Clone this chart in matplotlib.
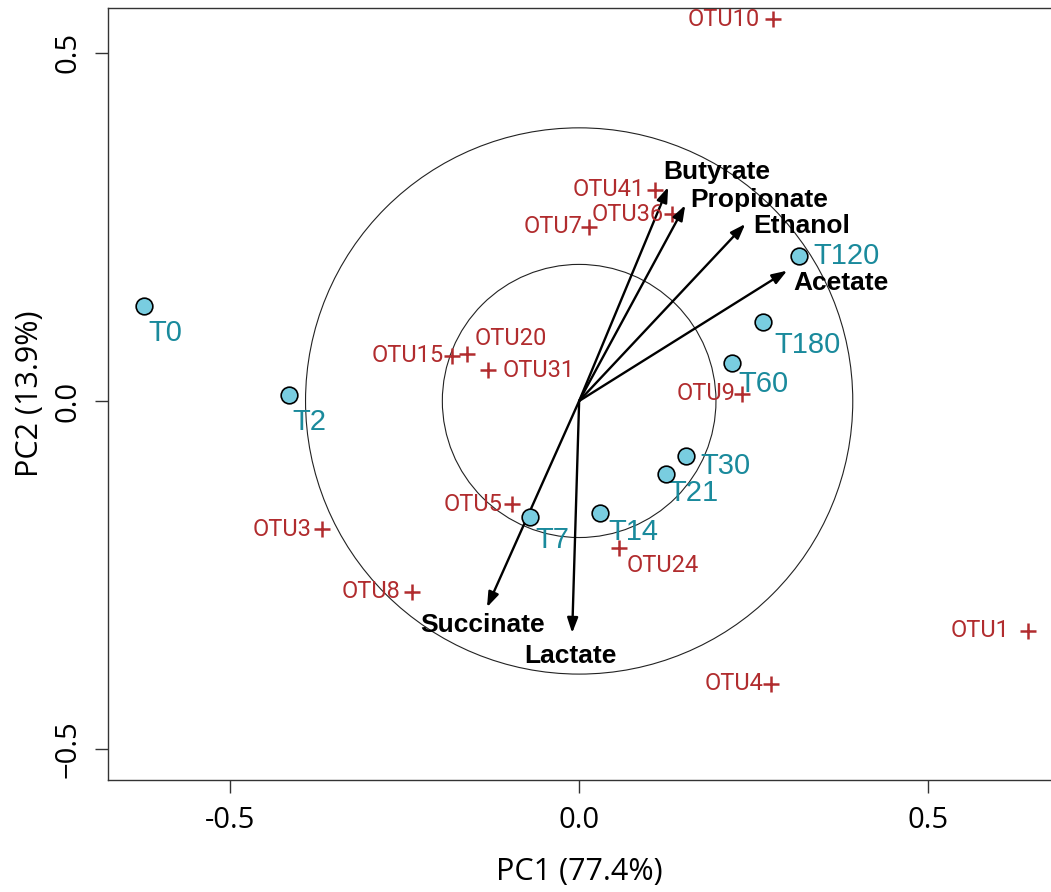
import matplotlib
matplotlib.use('Agg')
from matplotlib import pyplot as plt
from matplotlib.patches import Circle

# sample scores
samples = ['T0', 'T2', 'T7', 'T14', 'T21', 'T30', 'T60', 'T120', 'T180']
sample_pc1 = [-0.623, -0.416, -0.070, 0.030, 0.125, 0.153, 0.219, 0.315, 0.264]
sample_pc2 = [0.136, 0.009, -0.166, -0.161, -0.105, -0.079, 0.055, 0.208, 0.113]

# OTU scores
otus = ['OTU10', 'OTU41', 'OTU36', 'OTU7', 'OTU15', 'OTU20', 'OTU31', 'OTU9',
        'OTU5', 'OTU3', 'OTU8', 'OTU24', 'OTU4', 'OTU1']
otu_pc1 = [0.278, 0.109, 0.133, 0.014, -0.182, -0.160, -0.130, 0.234,
           -0.096, -0.368, -0.239, 0.057, 0.275, 0.643]
otu_pc2 = [0.548, 0.303, 0.268, 0.250, 0.065, 0.067, 0.044, 0.010,
           -0.148, -0.184, -0.274, -0.211, -0.406, -0.330]

# metabolite loadings (arrows)
metabolites = ['Butyrate', 'Propionate', 'Ethanol', 'Acetate', 'Succinate', 'Lactate']
met_pc1 = [0.1275, 0.152, 0.238, 0.298, -0.132, -0.010]
met_pc2 = [0.307, 0.281, 0.254, 0.187, -0.296, -0.333]

circle_radii = [0.196, 0.392]

# label placement (pixels from the point) and alignment
sample_offsets = [(4, -27), (4, -27), (5, -23), (8, -19), (2, -19),
                  (14, -10), (6, -21), (14, 0), (11, -23)]
otu_offsets = [(-13, 0), (-10, 0), (-8, 0), (-6, 0), (-8, 0), (7, 16), (14, 0),
               (-7, 0), (-10, 0), (-11, 0), (-12, 0), (8, -18), (-8, 0), (-18, 0)]
otu_align = ['right', 'right', 'right', 'right', 'right', 'left', 'left',
             'right', 'right', 'right', 'right', 'left', 'right', 'right']
met_offsets = [(-5, 15), (5, 5), (8, -2), (6, -12), (-4, -18), (-2, -23)]
met_align = ['left', 'left', 'left', 'left', 'center', 'center']

RED = '#b12c2e'
TEAL = '#1a8a9c'
FILL = '#79cde0'


def main():
    fig = plt.figure(figsize=(10.51, 8.92), dpi=100)
    ax = fig.add_axes([108 / 1051, 112 / 892, 943 / 1051, 772 / 892])
    ax.set_xlim(-0.675, 0.676)
    ax.set_ylim(-0.544, 0.564)

    for r in circle_radii:
        ax.add_patch(Circle((0, 0), r, fill=False, ec='#222222', lw=0.8))

    # arrows
    for name, x, y, off, ha in zip(metabolites, met_pc1, met_pc2, met_offsets, met_align):
        ax.annotate('', xy=(x, y), xytext=(0, 0),
                    arrowprops=dict(arrowstyle='-|>,head_length=0.9,head_width=0.32',
                                    color='black', lw=1.7, shrinkA=0, shrinkB=0,
                                    mutation_scale=10))
        ax.annotate(name, (x, y), xytext=off, textcoords='offset pixels',
                    ha=ha, va='center', fontsize=19, fontweight='bold',
                    family='Liberation Sans', color='black')

    # OTUs
    ax.plot(otu_pc1, otu_pc2, '+', color=RED, ms=11, mew=1.8, ls='none')
    for name, x, y, off, ha in zip(otus, otu_pc1, otu_pc2, otu_offsets, otu_align):
        ax.annotate(name, (x, y), xytext=off, textcoords='offset pixels',
                    ha=ha, va='center', fontsize=17, family='Roboto', color=RED)

    # samples
    ax.plot(sample_pc1, sample_pc2, 'o', ms=12, mfc=FILL, mec='black', mew=1.2,
            ls='none', zorder=5)
    for name, x, y, off in zip(samples, sample_pc1, sample_pc2, sample_offsets):
        ax.annotate(name, (x, y), xytext=off, textcoords='offset pixels',
                    ha='left', va='center', fontsize=21, family='Liberation Sans',
                    color=TEAL)

    ax.spines['right'].set_visible(False)
    for s in ['left', 'top', 'bottom']:
        ax.spines[s].set_color('#333333')
        ax.spines[s].set_linewidth(1.0)

    ax.set_xticks([-0.5, 0.0, 0.5])
    ax.set_xticklabels(['-0.5', '0.0', '0.5'], family='Open Sans', fontsize=21)
    ax.set_yticks([-0.5, 0.0, 0.5])
    ax.set_yticklabels(['\u22120.5', '0.0', '0.5'], family='Open Sans', fontsize=21,
                       rotation=90, va='center')
    ax.tick_params(axis='both', length=9.5, width=1.0, color='#333333', pad=9)

    ax.set_xlabel('PC1 (77.4%)', family='Open Sans', fontsize=22, labelpad=16)
    ax.set_ylabel('PC2 (13.9%)', family='Open Sans', fontsize=22, labelpad=6)

    fig.savefig('out.png', dpi=100)


if __name__ == '__main__':
    main()
